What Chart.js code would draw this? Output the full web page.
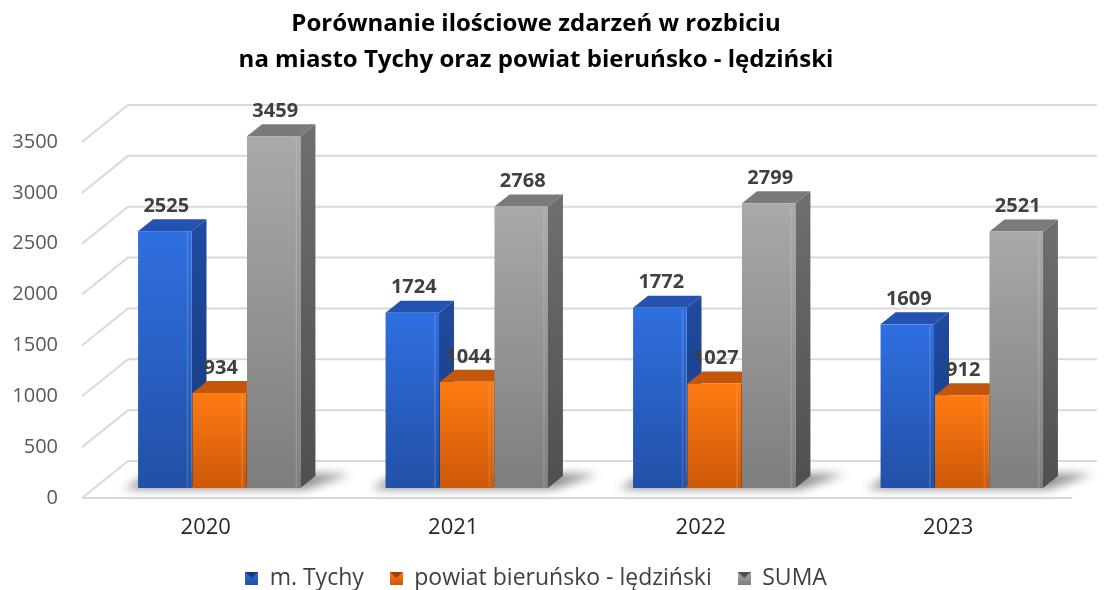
<!DOCTYPE html>
<html>
<head>
<meta charset="utf-8">
<script src="https://cdn.jsdelivr.net/npm/chart.js@4/dist/chart.umd.min.js"></script>
<style>
  body { margin: 0; background: #fff; }
  #wrap { width: 1108px; height: 590px; }
</style>
</head>
<body>
<div id="wrap"><canvas id="chart" width="1108" height="590"></canvas></div>
<script>
// dane z wykresu
const years = ['2020', '2021', '2022', '2023'];
const tychy = [2525, 1724, 1772, 1609];
const powiat = [934, 1044, 1027, 912];
const suma = [3459, 2768, 2799, 2521];
const seriesNames = ['m. Tychy', 'powiat bieruńsko - lędziński', 'SUMA'];
const yMax = 3500;
const yStep = 500;

const FONT = '"Open Sans", "Noto Sans", sans-serif';

// kolory: front (góra, dół), bok, wierzch
const palette = [
    { front: ['#2f6fe0', '#2250a6'], side: ['#1f4a9e', '#173a7e'], top: '#2452b0' },
    { front: ['#ff7b12', '#cc5808'], side: ['#b9500a', '#9a4206'], top: '#c4560a' },
    { front: ['#a9a9a9', '#7e7e7e'], side: ['#6e6e6e', '#4f4f4f'], top: '#7a7a7a' }
];

// przesunięcia 3D
const WALL_DX = 46, WALL_DY = -37;   // głębokość ściany
const SHIFT_X = 14, SHIFT_Y = -10;   // przód słupka względem osi
const BAR_DX = 15, BAR_DY = -12;     // głębokość słupka

function makeIcon(p) {
    const c = document.createElement('canvas');
    c.width = 13; c.height = 13;
    const g = c.getContext('2d');
    const gr = g.createLinearGradient(0, 0, 0, 13);
    gr.addColorStop(0, p.front[0]);
    gr.addColorStop(1, p.front[1]);
    g.fillStyle = gr;
    g.fillRect(0, 0, 13, 13);
    g.fillStyle = p.side[1];
    g.beginPath(); g.moveTo(0, 0); g.lineTo(13, 0); g.lineTo(6.5, 6); g.closePath(); g.fill();
    return c;
}
const legendIcons = palette.map(makeIcon);

const bars3d = {
    id: 'bars3d',
    beforeDatasetsDraw(chart) {
        const { ctx, chartArea } = chart;
        const y = chart.scales.y;
        ctx.save();
        ctx.strokeStyle = '#d9d9d9';
        ctx.lineWidth = 2;
        // linie siatki na tylnej ścianie + przekątne po lewej
        y.ticks.forEach(t => {
            const py = y.getPixelForValue(t.value);
            ctx.beginPath();
            ctx.moveTo(chartArea.left, py);
            ctx.lineTo(chartArea.left + WALL_DX, py + WALL_DY);
            ctx.lineTo(chartArea.right + 25, py + WALL_DY);
            ctx.stroke();
        });
        // przednia krawędź podłogi
        const p0 = y.getPixelForValue(0);
        ctx.beginPath();
        ctx.moveTo(chartArea.left, p0);
        ctx.lineTo(chartArea.right, p0);
        ctx.stroke();
        ctx.restore();
    },
    beforeDatasetDraw() {
        return false;
    },
    afterDatasetsDraw(chart) {
        const { ctx } = chart;
        const metas = chart.data.datasets.map((d, i) => chart.getDatasetMeta(i));
        ctx.save();
        // cień na podłodze
        years.forEach((yr, i) => {
            const first = metas[0].data[i], last = metas[metas.length - 1].data[i];
            const gl = first.x - first.width / 2 + SHIFT_X;
            const gr = last.x + last.width / 2 + SHIFT_X;
            const by = first.base + SHIFT_Y;
            ctx.save();
            ctx.filter = 'blur(5px)';
            ctx.fillStyle = 'rgba(0,0,0,0.45)';
            ctx.beginPath();
            ctx.moveTo(gl - 14, by + 1);
            ctx.lineTo(gr + 4, by + 1);
            ctx.lineTo(gr + BAR_DX + 34, by + BAR_DY - 2);
            ctx.lineTo(gl + BAR_DX - 4, by + BAR_DY - 2);
            ctx.closePath();
            ctx.fill();
            ctx.restore();
        });
        // słupki
        years.forEach((yr, i) => {
            metas.forEach((meta, s) => {
                const el = meta.data[i];
                const p = palette[s];
                const l = el.x - el.width / 2 + SHIFT_X;
                const r = el.x + el.width / 2 + SHIFT_X - 1;
                const t = el.y + SHIFT_Y;
                const b = el.base + SHIFT_Y;
                // bok
                const sg = ctx.createLinearGradient(0, t, 0, b);
                sg.addColorStop(0, p.side[0]);
                sg.addColorStop(1, p.side[1]);
                ctx.fillStyle = sg;
                ctx.beginPath();
                ctx.moveTo(r, t);
                ctx.lineTo(r + BAR_DX, t + BAR_DY);
                ctx.lineTo(r + BAR_DX, b + BAR_DY);
                ctx.lineTo(r, b);
                ctx.closePath();
                ctx.fill();
                // wierzch
                ctx.fillStyle = p.top;
                ctx.beginPath();
                ctx.moveTo(l, t);
                ctx.lineTo(l + BAR_DX, t + BAR_DY);
                ctx.lineTo(r + BAR_DX, t + BAR_DY);
                ctx.lineTo(r, t);
                ctx.closePath();
                ctx.fill();
                // przód
                const fg = ctx.createLinearGradient(0, t, 0, b);
                fg.addColorStop(0, p.front[0]);
                fg.addColorStop(1, p.front[1]);
                ctx.fillStyle = fg;
                ctx.fillRect(l, t, r - l, b - t);
                ctx.fillStyle = 'rgba(255,255,255,0.12)';
                ctx.fillRect(r - 5, t + 2, 2, b - t - 2);
            });
        });
        // etykiety danych
        ctx.font = 'bold 20px ' + FONT;
        ctx.fillStyle = '#404040';
        ctx.textAlign = 'center';
        ctx.textBaseline = 'bottom';
        metas.forEach((meta, s) => {
            meta.data.forEach((el, i) => {
                const v = chart.data.datasets[s].data[i];
                ctx.fillText(String(v), el.x + SHIFT_X + 1, el.y + SHIFT_Y + BAR_DY - 3);
            });
        });
        ctx.restore();
    }
};

const ctx = document.getElementById('chart').getContext('2d');
const chart = new Chart(ctx, {
    type: 'bar',
    data: {
        labels: years,
        datasets: [
            { label: seriesNames[0], data: tychy, backgroundColor: palette[0].front[0] },
            { label: seriesNames[1], data: powiat, backgroundColor: palette[1].front[0] },
            { label: seriesNames[2], data: suma, backgroundColor: palette[2].front[0] }
        ]
    },
    options: {
        responsive: false,
        animation: false,
        categoryPercentage: 0.66,
        barPercentage: 1.0,
        layout: { padding: { left: 0, right: 36, top: 0, bottom: -10 } },
        scales: {
            x: {
                grid: { display: false, drawTicks: false },
                border: { display: false },
                ticks: { color: '#262626', font: { family: FONT, size: 22 }, padding: 17 },
                afterFit(scale) { scale.height = 43; }
            },
            y: {
                min: 0,
                max: yMax,
                grid: { display: false, drawTicks: false },
                border: { display: false },
                ticks: {
                    stepSize: yStep,
                    color: '#595959',
                    font: { family: FONT, size: 20 },
                    padding: 24,
                    callback: v => String(v)
                },
                afterFit(scale) { scale.width = 82; }
            }
        },
        plugins: {
            title: {
                display: true,
                text: ['Porównanie ilościowe zdarzeń w rozbiciu', 'na miasto Tychy oraz powiat bieruńsko - lędziński'],
                color: '#000',
                font: { family: FONT, size: 24, weight: 'bold', lineHeight: '36px' },
                padding: { top: 6, bottom: 64 }
            },
            legend: {
                position: 'bottom',
                labels: {
                    usePointStyle: true,
                    boxWidth: 13,
                    boxHeight: 13,
                    padding: 26,
                    color: '#404040',
                    font: { family: FONT, size: 23 },
                    generateLabels(chart) {
                        const items = Chart.defaults.plugins.legend.labels.generateLabels(chart);
                        items.forEach((it, i) => { it.pointStyle = legendIcons[i]; });
                        return items;
                    }
                }
            },
            tooltip: { enabled: false }
        }
    },
    plugins: [bars3d]
});
</script>
</body>
</html>
